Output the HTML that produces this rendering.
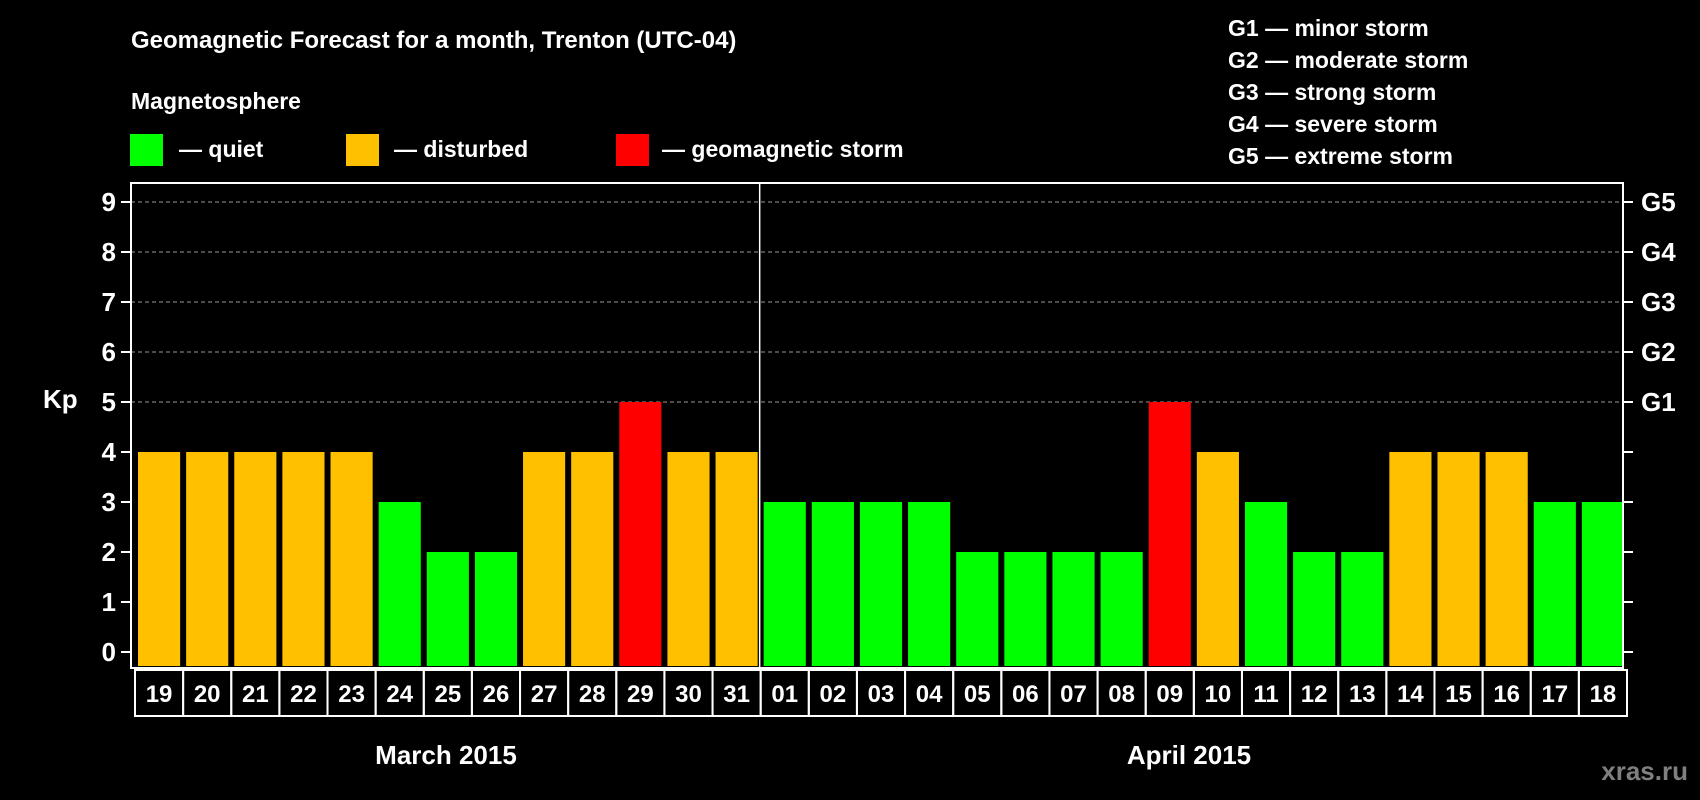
<!DOCTYPE html>
<html><head><meta charset="utf-8"><style>
html,body{margin:0;padding:0;background:#000;width:1700px;height:800px;overflow:hidden}
svg{display:block;font-family:"Liberation Sans",Arial,sans-serif;font-weight:bold}
</style></head><body>
<svg id="chart" width="1700" height="800" xmlns="http://www.w3.org/2000/svg">
<text x="131" y="48" fill="#fff" font-size="24">Geomagnetic Forecast for a month, Trenton (UTC-04)</text>
<text x="131" y="109" fill="#fff" font-size="23">Magnetosphere</text>
<rect x="130" y="134" width="33" height="32" fill="#00ff00"/>
<text x="179" y="157" fill="#fff" font-size="23">— quiet</text>
<rect x="346" y="134" width="33" height="32" fill="#ffc000"/>
<text x="394" y="157" fill="#fff" font-size="23">— disturbed</text>
<rect x="616" y="134" width="33" height="32" fill="#ff0000"/>
<text x="662" y="157" fill="#fff" font-size="23">— geomagnetic storm</text>
<g fill="#fff" font-size="23">
<text x="1228" y="36">G1 — minor storm</text>
<text x="1228" y="68">G2 — moderate storm</text>
<text x="1228" y="100">G3 — strong storm</text>
<text x="1228" y="132">G4 — severe storm</text>
<text x="1228" y="164">G5 — extreme storm</text>
</g>
<text x="43" y="408" fill="#fff" font-size="26">Kp</text>
<text x="446" y="764" fill="#fff" font-size="26" text-anchor="middle">March 2015</text>
<text x="1189" y="764" fill="#fff" font-size="26" text-anchor="middle">April 2015</text>
<text x="1688" y="780" fill="#7f7f7f" font-size="26" text-anchor="end">xras.ru</text>
<g id="plot"></g>
</svg>
<script>
const days = ["19","20","21","22","23","24","25","26","27","28","29","30","31","01","02","03","04","05","06","07","08","09","10","11","12","13","14","15","16","17","18"];
const kpValues = [4,4,4,4,4,3,2,2,4,4,5,4,4,3,3,3,3,2,2,2,2,5,4,3,2,2,4,4,4,3,3];
const yTicks = ["0","1","2","3","4","5","6","7","8","9"];
const gLabels = ["G1","G2","G3","G4","G5"];
const gLevels = [5,6,7,8,9];

const NS = "http://www.w3.org/2000/svg";
const g = document.getElementById('plot');
const L = 131, R = 1623, T = 183, B = 668, Y0 = 652, Y9 = 202;
const slot = (R - L) / days.length;
const y = v => Y0 - (Y0 - Y9) * v / 9;
const x = i => L + 4 + i * slot;
function mk(tag, a) { const e = document.createElementNS(NS, tag); for (const k in a) e.setAttribute(k, a[k]); g.appendChild(e); return e; }

// grid lines
yTicks.forEach((t, i) => {
  const v = +t;
  if (v >= 5) {
    const ln = mk('line', {x1: L, x2: R, y1: y(v), y2: y(v), stroke: '#999', 'stroke-width': 1, 'stroke-dasharray': '4,3'});
    
    
  }
  const tk = mk('line', {x1: L - 10, x2: L, y1: y(v), y2: y(v), stroke: '#fff', 'stroke-width': 2});
  
  
  const tk2 = mk('line', {x1: R, x2: R + 10, y1: y(v), y2: y(v), stroke: '#fff', 'stroke-width': 2});
  
  
  const tx = mk('text', {x: 116, y: y(v) + 9, fill: '#fff', 'font-size': 26, 'text-anchor': 'end'});
  tx.textContent = t;
  
  
});
gLabels.forEach((lab, i) => {
  const tx = mk('text', {x: 1641, y: y(gLevels[i]) + 9, fill: '#fff', 'font-size': 26});
  tx.textContent = lab;
  
  
});
// bars
kpValues.forEach((v, i) => {
  const col = v >= 5 ? '#ff0000' : (v >= 4 ? '#ffc000' : '#00ff00');
  const r = mk('rect', {x: x(i) + 3, y: y(v), width: slot - 6, height: (B - 2) - y(v), fill: col});
  
  
});
// frame
const fr = mk('rect', {x: L, y: T, width: R - L, height: B - T, fill: 'none', stroke: '#fff', 'stroke-width': 2});


const div = mk('line', {x1: x(13) - 1, x2: x(13) - 1, y1: T, y2: B, stroke: '#fff', 'stroke-width': 1.5});


// day boxes
days.forEach((d, i) => {
  const bx = mk('rect', {x: x(i), y: 670, width: slot, height: 46, fill: 'none', stroke: '#fff', 'stroke-width': 2});
  
  
  const tx = mk('text', {x: x(i) + slot / 2, y: 702, fill: '#fff', 'font-size': 24, 'text-anchor': 'middle'});
  tx.textContent = d;
  
  
});
</script>
</body></html>
